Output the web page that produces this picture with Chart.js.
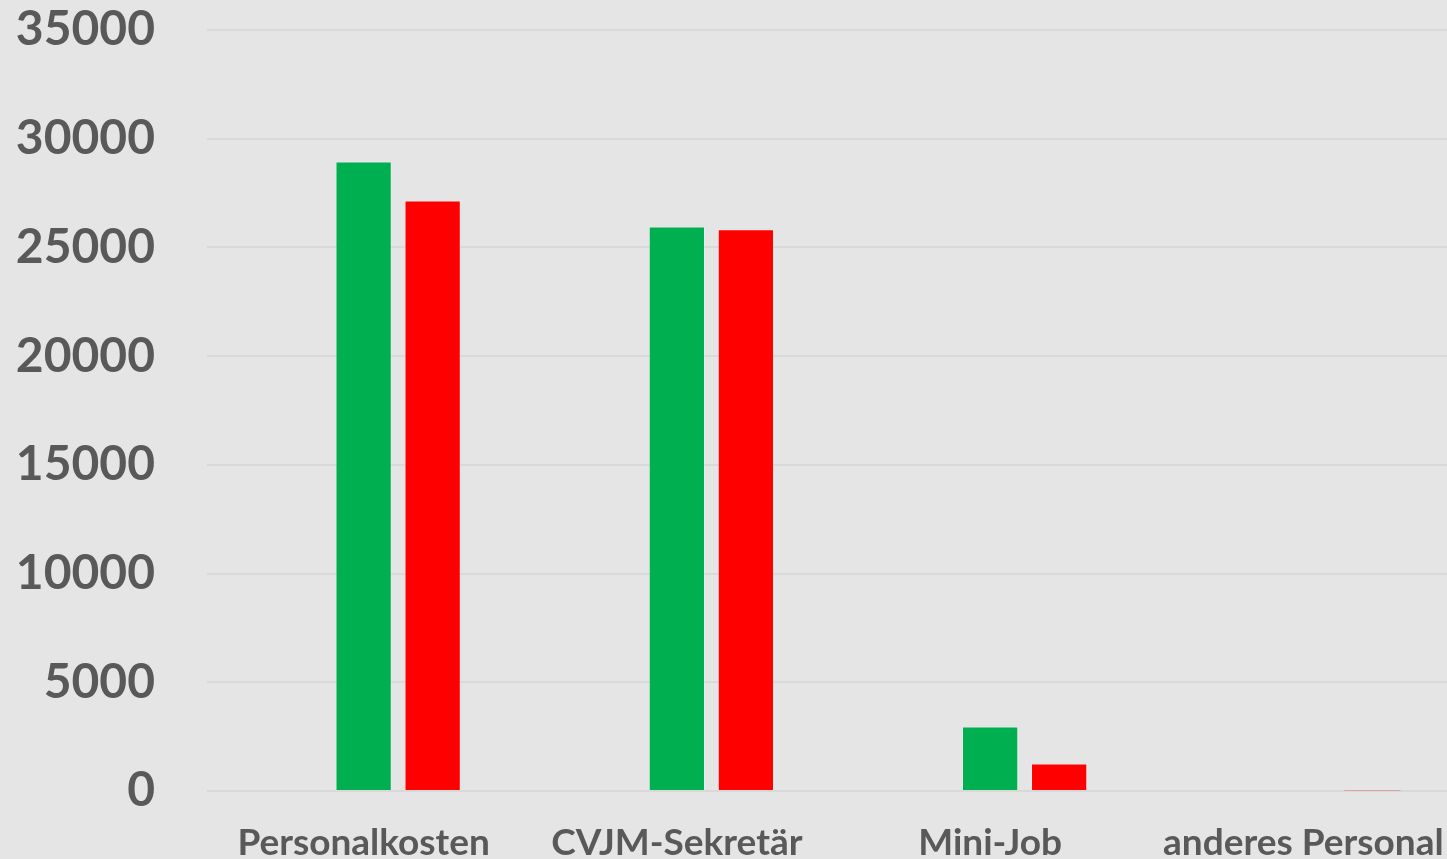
<!DOCTYPE html>
<html>
<head>
<meta charset="utf-8">
<script src="https://cdn.jsdelivr.net/npm/chart.js@4"></script>
<style>
html,body{margin:0;padding:0;background:#e5e5e5;overflow:hidden;}
#c{position:absolute;left:0;top:-51px;}
</style>
</head>
<body>
<canvas id="c" width="1460" height="931"></canvas>
<script>
const categories = ["Personalkosten", "CVJM-Sekretär", "Mini-Job", "anderes Personal"];
const seriesEmpty = [null, null, null, null];
const seriesGreen = [28950, 25950, 2960, 0];
const seriesRed = [27150, 25830, 1260, 40];
const yTicks = [0, 5000, 10000, 15000, 20000, 25000, 30000, 35000];

const FONT = "Lato";
new Chart(document.getElementById('c'), {
  type: 'bar',
  data: {
    labels: categories,
    datasets: [
      { label: '', data: seriesEmpty, backgroundColor: '#4472c4' },
      { label: 'A', data: seriesGreen, backgroundColor: '#00b050', borderColor: 'rgba(255,255,255,0.25)', borderWidth: 1 },
      { label: 'B', data: seriesRed, backgroundColor: '#ff0000', borderColor: 'rgba(255,255,255,0.25)',
        borderWidth: ctx => (ctx.raw !== undefined && ctx.raw < 200 ? 0 : 1) }
    ]
  },
  options: {
    responsive: false,
    animation: false,
    devicePixelRatio: 1,
    layout: { padding: 0 },
    datasets: { bar: { categoryPercentage: 0.661, barPercentage: 0.815 } },
    plugins: { legend: { display: false }, tooltip: { enabled: false } },
    scales: {
      x: {
        grid: { display: false, drawTicks: false },
        border: { display: false },
        ticks: { color: '#595959', font: { family: FONT, size: 37, weight: 'bold' }, padding: 30, maxRotation: 0, autoSkip: false },
        afterFit: s => { s.height = 931 - 842; s.paddingLeft = 0; s.paddingRight = 0; }
      },
      y: {
        min: 0, max: 35000,
        afterBuildTicks: s => { s.ticks = yTicks.map(v => ({ value: v })); },
        grid: { color: '#d9d9d9', lineWidth: 2, drawTicks: false },
        border: { display: false },
        ticks: { color: '#595959', font: { family: FONT, size: 48, weight: 'bold' }, padding: 52, callback: v => String(v) },
        afterFit: s => { s.width = 207; }
      }
    }
  }
});
</script>
</body>
</html>
